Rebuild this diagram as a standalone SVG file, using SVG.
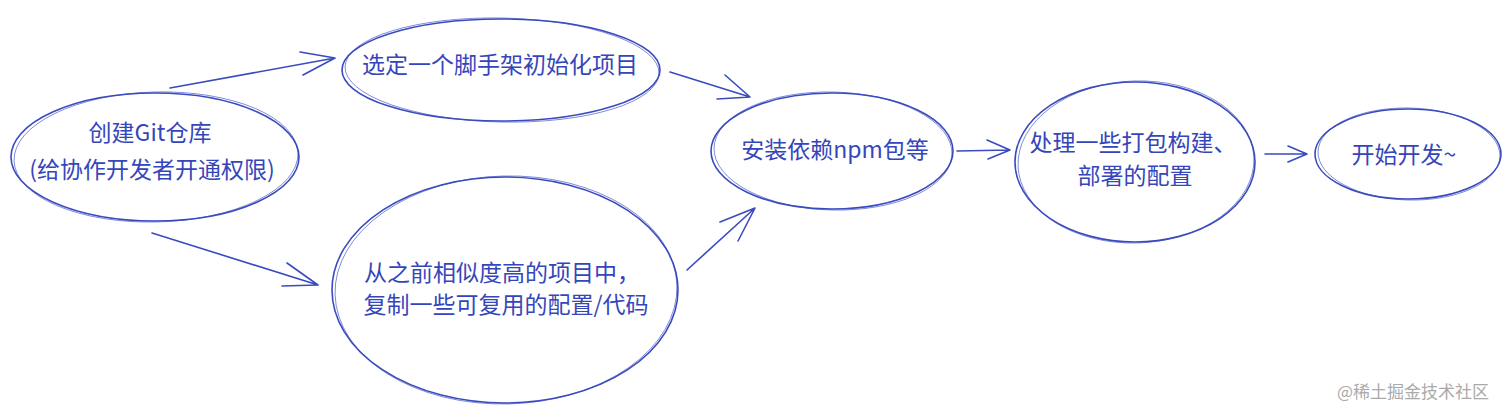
<svg xmlns="http://www.w3.org/2000/svg" width="1512" height="416" viewBox="0 0 1512 416">
<style>
.n{fill:none;stroke:#3a4bbf;stroke-width:1.6}
.n2{fill:none;stroke:#3a4bbf;stroke-width:0.8;opacity:0.8}
.t{font-family:"Noto Sans CJK SC","Noto Sans",sans-serif;font-size:23px;fill:#3546bb;text-anchor:middle}
.c{fill:none;stroke:#3a4bbf;stroke-width:1.6;stroke-linecap:round;stroke-linejoin:round}
.w{font-family:"Noto Sans CJK SC","Noto Sans",sans-serif;font-size:17px;fill:#aaaaaa}
</style>
<rect width="1512" height="416" fill="#ffffff"/>
<g id="connectors">
<path class="c" d="M170,88 L335,58 M300,52 L335,58 L303,75"/>
<path class="c" d="M152,233 L318,285 M287,263 L318,285 L282,286"/>
<path class="c" d="M670,72 L750,97 M725,75 L750,97 L717,99"/>
<path class="c" d="M687,270 L755,208 M720,222 L755,208 L738,241"/>
<path class="c" d="M957,151 L1010,150 M987,140 L1010,150 L988,159"/>
<path class="c" d="M1265,154 L1307,154 M1288,146 L1307,154 L1288,162"/>
</g>
<g id="node-git">
<ellipse class="n" cx="155" cy="157" rx="144" ry="64"/>
<ellipse class="n2" cx="156" cy="157" rx="142" ry="65" transform="rotate(-1.5 155 157)"/>
<text class="t" x="150" y="141">创建Git仓库</text>
<text class="t" x="152" y="178">(给协作开发者开通权限)</text>
</g>
<g id="node-scaffold">
<ellipse class="n" cx="501" cy="70" rx="159" ry="51"/>
<ellipse class="n2" cx="502" cy="70" rx="157" ry="52" transform="rotate(1.2 501 70)"/>
<text class="t" x="500" y="73">选定一个脚手架初始化项目</text>
</g>
<g id="node-copy">
<ellipse class="n" cx="505" cy="290" rx="173" ry="113"/>
<ellipse class="n2" cx="506" cy="290" rx="171" ry="114" transform="rotate(-1.5 505 290)"/>
<text class="t" x="502" y="281">从之前相似度高的项目中，</text>
<text class="t" x="506" y="313">复制一些可复用的配置/代码</text>
</g>
<g id="node-npm">
<ellipse class="n" cx="832" cy="151" rx="121" ry="58"/>
<ellipse class="n2" cx="833" cy="151" rx="119" ry="59" transform="rotate(1.5 832 151)"/>
<text class="t" x="835" y="158">安装依赖npm包等</text>
</g>
<g id="node-build">
<ellipse class="n" cx="1135" cy="162" rx="120" ry="80"/>
<ellipse class="n2" cx="1136" cy="162" rx="118" ry="81" transform="rotate(-2 1135 162)"/>
<text class="t" x="1133" y="151">处理一些打包构建、</text>
<text class="t" x="1135" y="184">部署的配置</text>
</g>
<g id="node-start">
<ellipse class="n" cx="1408" cy="154" rx="93" ry="45"/>
<ellipse class="n2" cx="1409" cy="154" rx="91" ry="46" transform="rotate(1.5 1408 154)"/>
<text class="t" x="1404" y="163">开始开发~</text>
</g>
<text class="w" x="1337" y="398">@稀土掘金技术社区</text>
</svg>
